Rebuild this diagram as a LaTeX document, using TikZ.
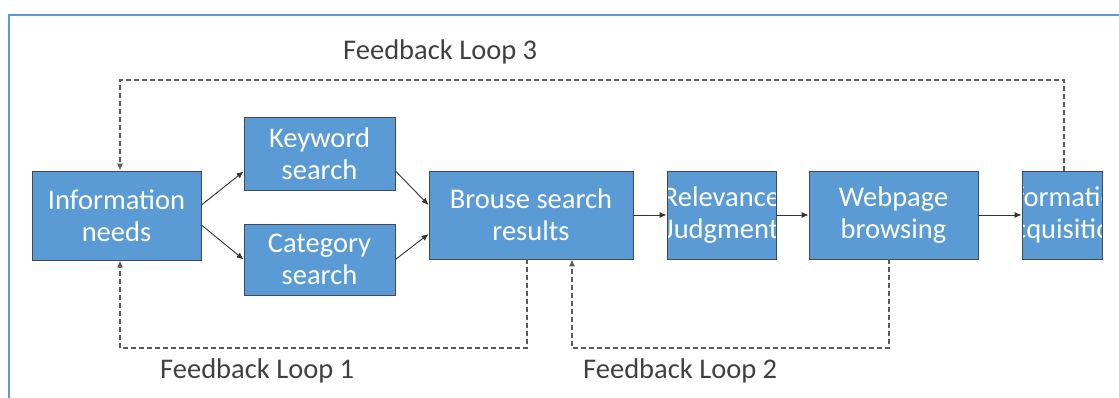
\documentclass[tikz,border=0pt]{standalone}
\usepackage{fontspec}
\setmainfont{Carlito}
\usetikzlibrary{arrows.meta,calc}

\definecolor{boxblue}{HTML}{5B9BD5}
\definecolor{boxedge}{HTML}{3F4A55}
\definecolor{framecol}{HTML}{5B9BD5}
\definecolor{labelcol}{HTML}{404040}
\definecolor{loopcol}{HTML}{5A5A5A}

\newcommand{\boxfont}{\fontsize{28.5}{32}\selectfont}

\tikzset{
  box/.style={draw=boxedge, fill=boxblue, line width=0.9pt, inner sep=0pt,
              align=center, text=white, font=\boxfont},
  cliptext/.style={text=white, align=center, font=\boxfont, inner sep=0pt},
  flow/.style={draw=black!80, line width=0.9pt, -{Latex[length=7pt,width=6pt]}},
  fbloop/.style={draw=loopcol, line width=1.1pt, dash pattern=on 4.5pt off 3.5pt,
                 -{Latex[length=7pt,width=6pt]}},
  looplabel/.style={text=labelcol, font=\boxfont, inner sep=0pt, anchor=base west},
}

\begin{document}
\begin{tikzpicture}[x=1pt,y=1pt]
\useasboundingbox (0,0) rectangle (1119,398);

% window frame
\draw[framecol, line width=2pt] (9,0) -- (9,383) -- (1119,383);

% process boxes
\node[box, minimum width=169, minimum height=89] (info) at (116.5,182.5) {Information\\needs};
\node[box, minimum width=151, minimum height=73] (kw)   at (319.5,244.5) {Keyword\\search};
\node[box, minimum width=151, minimum height=71] (cat)  at (319.5,138.5) {Category\\search};
\node[box, minimum width=204, minimum height=88] (res)  at (531,183)   {Brouse search\\results};
\node[box, minimum width=109, minimum height=88,
      path picture={\node[cliptext] at (path picture bounding box.center) {Relevance\\Judgment};}]
      (rel) at (721.5,183) {};
\node[box, minimum width=169, minimum height=88] (web)  at (893.5,183) {Webpage\\browsing};
\node[box, minimum width=80, minimum height=88,
      path picture={\node[cliptext] at (path picture bounding box.center) {Information\\Acquisition};}]
      (acq) at (1062,183) {};

% main flow
\draw[flow] ([yshift=10.5pt]info.east) -- ([yshift=-18pt]kw.west);
\draw[flow] ([yshift=-9.5pt]info.east) -- (cat.west);
\draw[flow] ([yshift=-17.5pt]kw.east) -- ([yshift=10pt]res.west);
\draw[flow] (cat.east) -- ([yshift=-19pt]res.west);
\draw[flow] (res.east) -- (rel.west);
\draw[flow] (rel.east) -- (web.west);
\draw[flow] (web.east) -- (acq.west);

% feedback loops
\coordinate (l3) at (120,318);
\coordinate (l1) at (120,50);
\coordinate (l2) at (572,50);
\draw[fbloop] ([xshift=2pt]acq.north) |- (l3) -- (l3 |- info.north);
\draw[fbloop] ([xshift=-4pt]res.south) |- (l1) -- (l1 |- info.south);
\draw[fbloop] ([xshift=-4.5pt]web.south) |- (l2) -- (l2 |- res.south);

% loop labels
\node[looplabel] (lab3) at (343,338) {Feedback Loop 3};
\node[looplabel] (lab1) at (160,19) {Feedback Loop 1};
\node[looplabel] (lab2) at (583,19) {Feedback Loop 2};
\end{tikzpicture}
\end{document}
